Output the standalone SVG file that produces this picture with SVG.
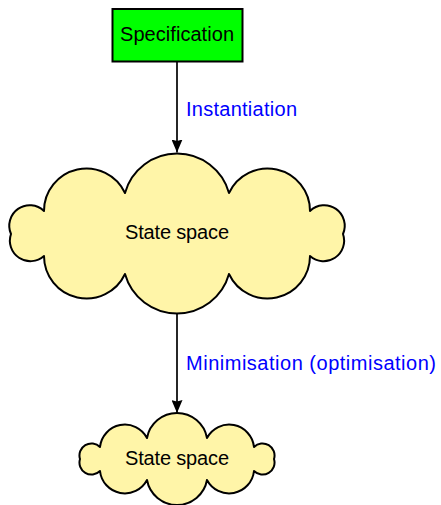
<svg xmlns="http://www.w3.org/2000/svg" width="441" height="505" viewBox="0 0 441 505">
  <style>
    .lbl { font-family: "Liberation Sans", "DejaVu Sans", sans-serif; font-size: 20px; }
    .node-text { fill: #000000; text-anchor: middle; }
    .edge-text { fill: #0000ff; text-anchor: start; }
    .cloud { fill: #fff5a8; stroke: #000000; stroke-width: 2; stroke-linejoin: round; }
    .box { fill: #00ff00; stroke: #000000; stroke-width: 2; }
    .edge { fill: none; stroke: #000000; stroke-width: 1.7; }
  </style>
  <defs>
    <marker id="arrow" viewBox="0 0 13 11" refX="13" refY="5.5" markerWidth="13" markerHeight="11" markerUnits="userSpaceOnUse" orient="auto">
      <path d="M0,0 L13,5.5 L0,11 L1.5,5.5 Z" fill="#000000"/>
    </marker>
  </defs>
  <rect width="441" height="505" fill="#ffffff"/>

  <g id="connectors">
    <path class="edge" d="M177,62 L177,152.5" marker-end="url(#arrow)"/>
    <text class="lbl edge-text" x="186" y="115.7" textLength="111" lengthAdjust="spacing">Instantiation</text>
    <path class="edge" d="M177,313 L177,413" marker-end="url(#arrow)"/>
    <text class="lbl edge-text" x="186" y="369.5" textLength="250" lengthAdjust="spacing">Minimisation (optimisation)</text>
  </g>

  <g id="specification">
    <rect class="box" x="112.5" y="9" width="130" height="52.5"/>
    <text class="lbl node-text" x="177" y="41" textLength="114" lengthAdjust="spacing">Specification</text>
  </g>

  <g id="state-space-large">
    <path class="cloud" d="M11,234 A20.5 20.5 0 0 1 44,211 A42.5 42.5 0 0 1 125,193 A54 54 0 0 1 229,193 A42.5 42.5 0 0 1 310,211 A20.5 20.5 0 0 1 343,234 A20.5 20.5 0 0 1 310,256 A42.5 42.5 0 0 1 229,274 A54 54 0 0 1 125,274 A42.5 42.5 0 0 1 44,256 A20.5 20.5 0 0 1 11,234 Z"/>
    <text class="lbl node-text" x="177" y="238.5" textLength="104" lengthAdjust="spacing">State space</text>
  </g>

  <g id="state-space-small">
    <path class="cloud" d="M80,459 A12 12 0 0 1 100,447 A25 25 0 0 1 147,438 A30.5 30.5 0 0 1 207,438 A25 25 0 0 1 254,447 A12 12 0 0 1 274,459 A12 12 0 0 1 254,471 A25 25 0 0 1 207,480 A30.5 30.5 0 0 1 147,480 A25 25 0 0 1 100,471 A12 12 0 0 1 80,459 Z"/>
    <text class="lbl node-text" x="177" y="464.5" textLength="104" lengthAdjust="spacing">State space</text>
  </g>
</svg>
